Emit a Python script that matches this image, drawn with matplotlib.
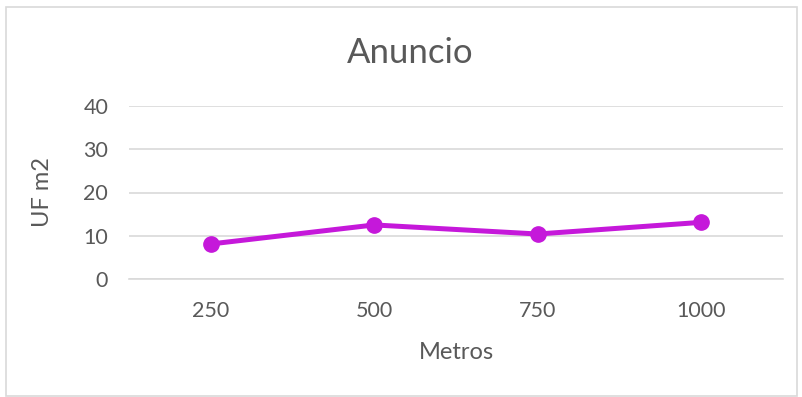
import matplotlib
matplotlib.use("Agg")
import matplotlib.pyplot as plt
from matplotlib.patches import Rectangle

# data
metros = ["250", "500", "750", "1000"]
uf_m2 = [8.1, 12.5, 10.4, 13.1]
y_ticks = [0, 10, 20, 30, 40]

plt.rcParams['font.family'] = ['Lato', 'DejaVu Sans']
grey_txt = "#595959"
grid_col = "#D9D9D9"

fig = plt.figure(figsize=(8.03, 3.97), dpi=100)
ax = fig.add_axes([129 / 803, 1 - 279 / 397, 654 / 803, 173 / 397])

x = range(len(metros))
ax.plot(x, uf_m2, color="#C518DA", lw=3.6, marker="o", ms=11,
        solid_capstyle="round", zorder=3)

ax.set_xlim(-0.5, len(metros) - 0.5)
ax.set_ylim(0, 40)
ax.set_xticks(list(x))
ax.set_xticklabels(metros)
ax.set_yticks(y_ticks)
ax.grid(axis="y", color=grid_col, lw=1.2)
ax.set_axisbelow(True)
for s in ["top", "right", "left"]:
    ax.spines[s].set_visible(False)
ax.spines["bottom"].set_color(grid_col)
ax.spines["bottom"].set_linewidth(1.2)
ax.tick_params(length=0, labelsize=15.5, colors=grey_txt)
ax.tick_params(axis="y", pad=15)
ax.tick_params(axis="x", pad=16)

ax.set_xlabel("Metros", fontsize=17, color=grey_txt, labelpad=15)
ax.set_ylabel("UF m2", fontsize=17, color=grey_txt, labelpad=22)
fig.text(410 / 803, 1 - 53 / 397, "Anuncio", ha="center", va="center",
         fontsize=25, color=grey_txt)

# light chart border
fig.patches.append(Rectangle((6 / 803, 1 / 397), 791 / 803, 389 / 397,
                             transform=fig.transFigure, fill=False,
                             edgecolor=grid_col, lw=1.2))

fig.savefig("out.png", dpi=100)
